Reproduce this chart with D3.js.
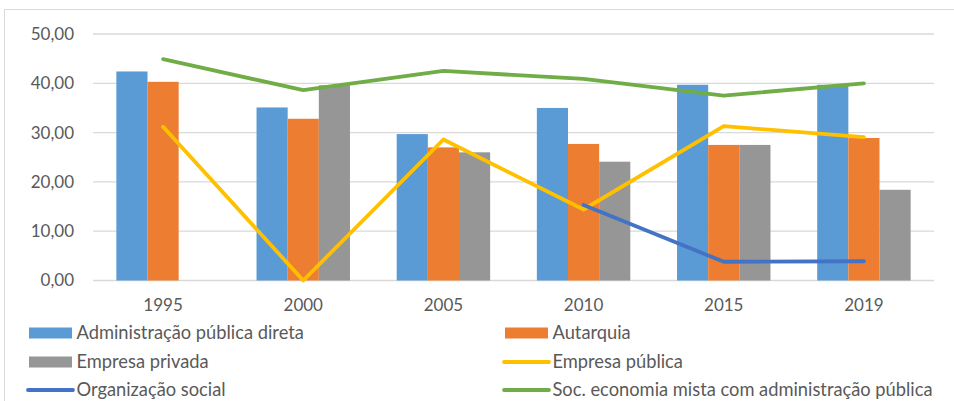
<!DOCTYPE html>
<html>
<head>
<meta charset="utf-8">
<script src="https://cdn.jsdelivr.net/npm/d3@7"></script>
<style>
  html, body { margin: 0; padding: 0; background: #fff; }
  svg { display: block; font-family: Lato, "Open Sans", sans-serif; }
</style>
</head>
<body>
<svg id="chart" width="954" height="401"></svg>
<script>
// Years on the category axis
const years = ["1995", "2000", "2005", "2010", "2015", "2019"];

// Clustered columns
const adminDireta   = [42.4, 35.1, 29.7, 35.0, 39.7, 39.7];
const autarquia     = [40.3, 32.8, 27.0, 27.7, 27.5, 28.9];
const empresaPrivada = [0, 39.6, 26.0, 24.1, 27.5, 18.4];

// Lines
const empresaPublica   = [31.2, 0.0, 28.6, 14.4, 31.3, 29.1];
const organizacaoSocial = [null, null, null, 15.3, 3.8, 3.9];
const socEconomiaMista = [44.9, 38.6, 42.5, 40.9, 37.5, 40.0];

const yTicks = [0, 10, 20, 30, 40, 50];

const barSeries = [
  { name: "Administração pública direta", values: adminDireta, color: "#5B9BD5" },
  { name: "Autarquia", values: autarquia, color: "#ED7D31" },
  { name: "Empresa privada", values: empresaPrivada, color: "#969696" }
];
const lineSeries = [
  { name: "Empresa pública", values: empresaPublica, color: "#FFC000" },
  { name: "Organização social", values: organizacaoSocial, color: "#4472C4" },
  { name: "Soc. economia mista com administração pública", values: socEconomiaMista, color: "#70AD47" }
];

const svg = d3.select("#chart");

// Chart area frame (top and left edges visible)
svg.append("line").attr("x1", 4.5).attr("x2", 954).attr("y1", 9.5).attr("y2", 9.5)
  .attr("stroke", "#d9d9d9").attr("stroke-width", 1);
svg.append("line").attr("x1", 4.5).attr("x2", 4.5).attr("y1", 9.5).attr("y2", 401)
  .attr("stroke", "#d9d9d9").attr("stroke-width", 1);

const x = d3.scaleBand().domain(years).range([93, 934]).paddingInner(0).paddingOuter(0);
const y = d3.scaleLinear().domain([0, 50]).range([280.5, 34]);
const xSub = d3.scaleBand().domain(d3.range(barSeries.length))
  .range([0, x.bandwidth()]).paddingInner(0).paddingOuter(0.75);

const fmt = v => d3.format(".2f")(v).replace(".", ",");

// Gridlines
svg.append("g").selectAll("line").data(yTicks).join("line")
  .attr("x1", 93).attr("x2", 934)
  .attr("y1", d => y(d)).attr("y2", d => y(d))
  .attr("stroke", "#d9d9d9").attr("stroke-width", 1.3);

// Y axis labels
svg.append("g").selectAll("text").data(yTicks).join("text")
  .attr("x", 74).attr("y", d => y(d)).attr("dy", "0.35em")
  .attr("text-anchor", "end").attr("font-size", 17).attr("fill", "#595959")
  .text(fmt);

// X axis labels
svg.append("g").selectAll("text").data(years).join("text")
  .attr("x", d => x(d) + x.bandwidth() / 2).attr("y", 311)
  .attr("text-anchor", "middle").attr("font-size", 17).attr("fill", "#595959")
  .text(d => d);

// Columns
barSeries.forEach((s, i) => {
  svg.append("g").selectAll("rect").data(years.map((yr, j) => ({ yr, v: s.values[j] })))
    .join("rect")
    .attr("x", d => x(d.yr) + xSub(i))
    .attr("width", xSub.bandwidth())
    .attr("y", d => y(d.v))
    .attr("height", d => y(0) - y(d.v))
    .attr("fill", s.color);
});

// Lines
const line = d3.line()
  .defined(d => d.v !== null)
  .x(d => x(d.yr) + x.bandwidth() / 2)
  .y(d => y(d.v));
lineSeries.forEach(s => {
  svg.append("path")
    .datum(years.map((yr, j) => ({ yr, v: s.values[j] })))
    .attr("d", line)
    .attr("fill", "none").attr("stroke", s.color)
    .attr("stroke-width", 3.8).attr("stroke-linecap", "round").attr("stroke-linejoin", "round");
});

// Legend: two columns, three rows
const legendItems = [
  { ...barSeries[0], type: "bar" }, { ...barSeries[1], type: "bar" },
  { ...barSeries[2], type: "bar" }, { ...lineSeries[0], type: "line" },
  { ...lineSeries[1], type: "line" }, { ...lineSeries[2], type: "line" }
];
const colX = [29, 505];
const rowY = [333, 362, 390];
const legend = svg.append("g");
legendItems.forEach((it, k) => {
  const cx = colX[k % 2], cy = rowY[Math.floor(k / 2)];
  if (it.type === "bar") {
    legend.append("rect").attr("x", cx).attr("y", cy - 5.5).attr("width", 43).attr("height", 11)
      .attr("fill", it.color);
  } else {
    legend.append("line").attr("x1", cx - 1).attr("x2", cx + 44).attr("y1", cy).attr("y2", cy)
      .attr("stroke", it.color).attr("stroke-width", 3.8).attr("stroke-linecap", "round");
  }
  legend.append("text").attr("x", cx + 47.5).attr("y", cy).attr("dy", "0.35em")
    .attr("font-size", 18.3).attr("fill", "#595959").text(it.name);
});
</script>
</body>
</html>
